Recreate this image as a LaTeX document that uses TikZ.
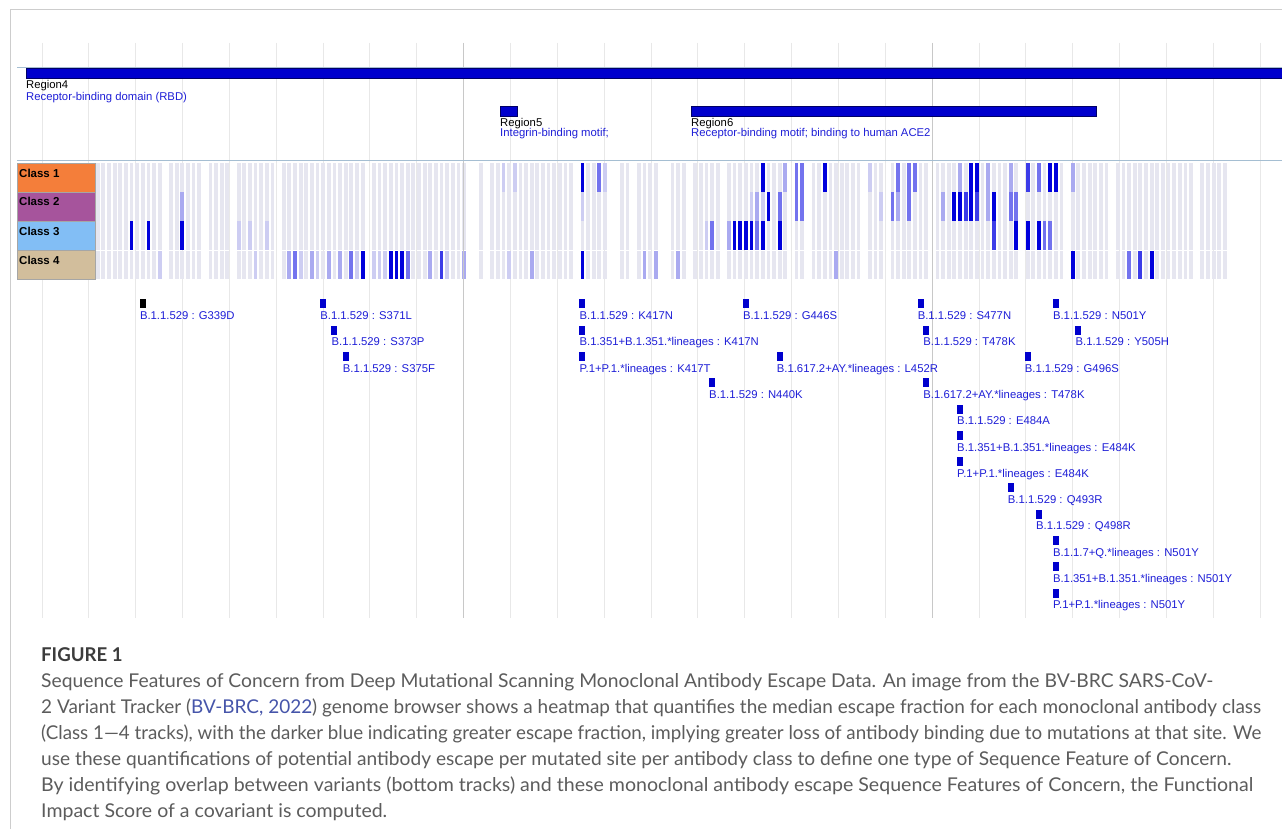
\documentclass[tikz,border=0pt]{standalone}
\usepackage{fontspec}
\setmainfont{Liberation Sans}
\newfontfamily\capfont{Lato}
\definecolor{hm1}{RGB}{230,230,240}
\definecolor{hm2}{RGB}{205,205,242}
\definecolor{hm3}{RGB}{170,170,240}
\definecolor{hm4}{RGB}{115,115,238}
\definecolor{hm5}{RGB}{60,60,232}
\definecolor{hm6}{RGB}{0,0,220}
\definecolor{gridc}{RGB}{232,232,232}
\definecolor{gridd}{RGB}{200,200,200}
\definecolor{framec}{RGB}{205,205,205}
\definecolor{trackline}{RGB}{165,190,210}
\definecolor{barblue}{RGB}{0,0,205}
\definecolor{txtblue}{RGB}{30,30,215}
\definecolor{cone}{RGB}{244,126,58}
\definecolor{ctwo}{RGB}{166,84,156}
\definecolor{cthree}{RGB}{130,190,245}
\definecolor{cfour}{RGB}{210,190,156}
\definecolor{capgray}{RGB}{92,92,92}
\definecolor{capdark}{RGB}{60,60,60}
\definecolor{linkc}{RGB}{70,85,170}
\newsavebox\capbox
\newcommand\capsize{\capfont\fontsize{19}{22}\selectfont}
\newcommand\fitline[2]{\sbox\capbox{\capsize #2}\pgfmathsetmacro\fitr{#1/\wd\capbox}\scalebox{\fitr}[1]{\usebox\capbox}}
\newcommand\xr[1]{142.8+(#1-339)*5.636}
\tikzset{
  lab/.style={font=\fontsize{11.3}{12}\selectfont, text=txtblue, inner sep=0pt, anchor=base west},
  reglab/.style={font=\fontsize{11.3}{12}\selectfont, inner sep=0pt, anchor=base west},
  classlab/.style={font=\fontsize{11.5}{12}\selectfont\bfseries, inner sep=0pt, anchor=base west},
  classbox/.style={draw=gray!70, line width=0.6pt},
  capline/.style={font=\capsize, text=capgray, inner sep=0pt, anchor=base west},
  mkr/.style={fill=barblue}
}
\begin{document}
\begin{tikzpicture}[x=1pt,y=-1pt]
\useasboundingbox (0,0) rectangle (1282,829);
\fill[white] (0,0) rectangle (1282,829);
% outer frame
\draw[framec, line width=1pt] (10,829) -- (10,10) -- (1282,10);
% grid lines
\foreach \k in {0,...,26} {\draw[gridc, line width=1pt] ({42+46.85*\k},43) -- ({42+46.85*\k},618);}
\foreach \k in {9,19} {\draw[gridd, line width=1pt] ({42+46.85*\k},43) -- ({42+46.85*\k},618);}
% track lines
\draw[trackline, line width=0.8pt] (17,67.5) -- (1282,67.5);
\draw[trackline, line width=0.8pt] (17,160.5) -- (1282,160.5);
% regions
\fill[barblue, draw=blue!40!black, line width=0.5pt] (26,68.5) rectangle (1283,78.5);
\node[reglab] (r4a) at (26,89) {Region4};
\node[reglab, text=txtblue] (r4b) at (26,100.5) {Receptor-binding domain (RBD)};
\fill[barblue, draw=blue!40!black, line width=0.5pt] (500,106.5) rectangle (517.5,116);
\node[reglab] (r5a) at (500,127) {Region5};
\node[reglab, text=txtblue] (r5b) at (500,137) {Integrin-binding motif;};
\fill[barblue, draw=blue!40!black, line width=0.5pt] (691,106.5) rectangle (1096,116);
\node[reglab] (r6a) at (691,127) {Region6};
\node[reglab, text=txtblue] (r6b) at (691,137) {Receptor-binding motif; binding to human ACE2};
% class boxes
\fill[cone, classbox] (17,163) rectangle (95,192);
\fill[ctwo, classbox] (17,192) rectangle (95,221);
\fill[cthree, classbox] (17,221) rectangle (95,250);
\fill[cfour, classbox] (17,250) rectangle (95,279);
\node[classlab] (c1) at (19,177.5) {Class 1};
\node[classlab] (c2) at (19,206) {Class 2};
\node[classlab] (c3) at (19,235) {Class 3};
\node[classlab] (c4) at (19,264) {Class 4};
% heatmap base cells
\foreach \a/\b in {331/342,344/349,351/354,356/362,364/378,380/396,399/399,401/415,417/421,424/425,427/430,433/435,437/441,443/453,455/456,458/466,468/470,472/478,480/494,496/502,504/510,512/525,527/531} {
  \foreach \r in {\a,...,\b} {
    \foreach \row in {0,1,2,3} {
      \fill[hm1] ({\xr{\r}-1.9},{163.2+29.1*\row}) rectangle +(3.8,28.4);
    }
  }
}
% class 1
\foreach \r/\lv in {403/2,405/2,417/6,420/4,421/2,449/6,453/3,455/4,456/4,460/6,468/2,473/4,475/4,476/4,484/3,486/6,487/6,489/3,493/3,496/5,498/4,500/6,501/6,504/3}
  {\fill[hm\lv] ({\xr{\r}-1.9},163.2) rectangle +(3.8,28.4);}
% class 2
\foreach \r/\lv in {346/3,417/2,447/2,448/3,449/2,450/6,452/4,455/4,456/4,470/2,472/4,473/3,475/4,481/3,483/6,484/6,485/5,486/6,487/5,489/3,490/6,493/4,494/4}
  {\fill[hm\lv] ({\xr{\r}-1.9},192.3) rectangle +(3.8,28.4);}
% class 3
\foreach \r/\lv in {337/6,340/6,346/6,356/2,358/2,361/2,439/2,440/4,443/3,444/6,445/6,446/6,447/6,448/4,449/6,452/6,490/5,494/6,496/6,498/6,499/4,500/4}
  {\fill[hm\lv] ({\xr{\r}-1.9},221.4) rectangle +(3.8,28.4);}
% class 4
\foreach \r/\lv in {342/2,359/2,365/3,366/4,367/2,369/3,370/2,372/3,374/3,376/4,377/2,378/6,380/2,381/2,382/2,383/6,384/6,385/6,386/4,390/3,392/5,393/2,396/3,404/2,408/3,417/6,428/3,430/3,434/3,462/3,504/6,514/4,516/5,518/6}
  {\fill[hm\lv] ({\xr{\r}-1.9},250.5) rectangle +(3.8,28.4);}
% darker grid lines over the heatmap
\foreach \k in {9,19} {\draw[gridd, line width=1pt] ({42+46.85*\k},163) -- ({42+46.85*\k},279);}
% variant features
\foreach \row/\r/\txt [count=\i] in {
  1/339/B.1.1.529 : G339D,
  1/371/B.1.1.529 : S371L,
  2/373/B.1.1.529 : S373P,
  3/375/B.1.1.529 : S375F,
  1/417/B.1.1.529 : K417N,
  2/417/B.1.351+B.1.351.*lineages : K417N,
  3/417/P.1+P.1.*lineages : K417T,
  4/440/B.1.1.529 : N440K,
  1/446/B.1.1.529 : G446S,
  3/452/B.1.617.2+AY.*lineages : L452R,
  1/477/B.1.1.529 : S477N,
  2/478/B.1.1.529 : T478K,
  4/478/B.1.617.2+AY.*lineages : T478K,
  5/484/B.1.1.529 : E484A,
  6/484/B.1.351+B.1.351.*lineages : E484K,
  7/484/P.1+P.1.*lineages : E484K,
  8/493/B.1.1.529 : Q493R,
  3/496/B.1.1.529 : G496S,
  9/498/B.1.1.529 : Q498R,
  1/501/B.1.1.529 : N501Y,
  2/505/B.1.1.529 : Y505H,
  10/501/B.1.1.7+Q.*lineages : N501Y,
  11/501/B.1.351+B.1.351.*lineages : N501Y,
  12/501/P.1+P.1.*lineages : N501Y} {
  \fill[mkr] ({\xr{\r}-3},{299.3+26.3*(\row-1)}) rectangle +(6,9);
  \node[lab] (v\i) at ({\xr{\r}-3},{319.5+26.3*(\row-1)}) {\txt};
}
\fill[black] ({\xr{339}-3},299.3) rectangle +(6,9);
% caption
\node[capline, font=\capfont\fontsize{19}{20}\selectfont\bfseries, text=capdark] (fig) at (41,661) {\scalebox{0.98}[1]{FIGURE 1}};
\node[capline] (cap1) at (41,687) {\fitline{1172}{Sequence Features of Concern from Deep Mutational Scanning Monoclonal Antibody Escape Data. An image from the BV-BRC SARS-CoV-}};
\node[capline] (cap2) at (41,713) {\fitline{1220}{2 Variant Tracker (\textcolor{linkc}{BV-BRC, 2022}) genome browser shows a heatmap that quantifies the median escape fraction for each monoclonal antibody class}};
\node[capline] (cap3) at (41,739) {\fitline{1220}{(Class 1—4 tracks), with the darker blue indicating greater escape fraction, implying greater loss of antibody binding due to mutations at that site. We}};
\node[capline] (cap4) at (41,765) {\fitline{1190}{use these quantifications of potential antibody escape per mutated site per antibody class to define one type of Sequence Feature of Concern.}};
\node[capline] (cap5) at (41,791) {\fitline{1212}{By identifying overlap between variants (bottom tracks) and these monoclonal antibody escape Sequence Features of Concern, the Functional}};
\node[capline] (cap6) at (41,817) {\fitline{346}{Impact Score of a covariant is computed.}};
\end{tikzpicture}
\end{document}
